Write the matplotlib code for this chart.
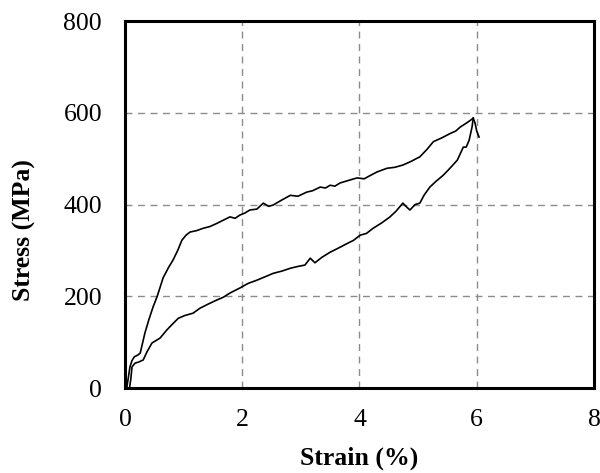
import matplotlib
matplotlib.use("Agg")
import matplotlib.pyplot as plt

# loading branch (upper), strain % / stress MPa
load_strain = [0.03, 0.06, 0.085, 0.12, 0.16, 0.22, 0.26, 0.34, 0.41, 0.48, 0.55, 0.60, 0.65,
               0.74, 0.82, 0.90, 0.97, 1.04, 1.11, 1.22, 1.33, 1.45, 1.57, 1.68, 1.79,
               1.88, 1.96, 2.04, 2.13, 2.25, 2.36, 2.45, 2.53, 2.65, 2.82, 2.95, 3.10,
               3.20, 3.33, 3.42, 3.50, 3.58, 3.67, 3.80, 3.96, 4.08, 4.18, 4.30, 4.47,
               4.60, 4.74, 4.88, 5.03, 5.15, 5.26, 5.40, 5.55, 5.64, 5.72, 5.83, 5.94]
load_stress = [0, 25, 46, 60, 68, 72, 76, 120, 150, 177, 200, 220, 240,
               262, 279, 300, 322, 333, 340, 343, 348, 352, 359, 366, 373,
               370, 377, 381, 388, 390, 403, 396, 399, 408, 420, 418, 427,
               430, 438, 436, 442, 440, 447, 452, 458, 456, 463, 471, 479,
               481, 486, 494, 504, 520, 537, 545, 555, 560, 569, 578, 588]

# drop at the end of the test
tail_strain = [5.94, 5.97, 6.00, 6.04]
tail_stress = [588, 578, 560, 547]

# unloading branch (lower), from peak back to zero
unload_strain = [5.94, 5.92, 5.87, 5.82, 5.77, 5.67, 5.55, 5.43, 5.30, 5.20, 5.10, 5.03,
                 4.95, 4.86, 4.80, 4.74, 4.62, 4.52, 4.38, 4.23, 4.12, 4.01, 3.90,
                 3.79, 3.64, 3.50, 3.36, 3.24, 3.16, 3.07, 2.95, 2.82, 2.68, 2.53,
                 2.40, 2.25, 2.10, 1.96, 1.79, 1.68, 1.57, 1.42, 1.28, 1.16, 1.02,
                 0.91, 0.80, 0.71, 0.60, 0.46, 0.38, 0.31, 0.24, 0.17, 0.12, 0.10, 0.08]
unload_stress = [588, 569, 540, 525, 525, 497, 480, 464, 450, 438, 420, 403,
                 400, 388, 395, 403, 385, 373, 360, 348, 337, 333, 322,
                 315, 305, 296, 285, 273, 283, 268, 265, 261, 255, 250,
                 243, 235, 228, 218, 207, 198, 192, 183, 174, 163, 158,
                 152, 138, 126, 109, 98, 80, 61, 57, 54, 46, 20, 2]

plt.rcParams["font.family"] = ["Liberation Serif", "DejaVu Serif"]

fig = plt.figure(figsize=(6.0, 4.73), dpi=100)
ax = fig.add_axes([0.2083, 0.1797, 0.7817, 0.7759])

ax.plot(load_strain, load_stress, color="black", linewidth=1.2)
ax.plot(tail_strain, tail_stress, color="black", linewidth=1.2)
ax.plot(unload_strain, unload_stress, color="black", linewidth=1.2)

ax.set_xlim(0, 8)
ax.set_ylim(0, 800)
ax.set_xticks([0, 2, 4, 6, 8])
ax.set_yticks([0, 200, 400, 600, 800])
ax.grid(True, color="#8c8c8c", linestyle=(0, (5, 4)), linewidth=1.0)
ax.set_axisbelow(True)
for s in ax.spines.values():
    s.set_linewidth(2.2)
ax.tick_params(length=0, labelsize=18.5)
ax.tick_params(axis="x", pad=15)
ax.tick_params(axis="y", pad=16.5)

ax.set_xlabel("Strain (%)", fontsize=18.5, fontweight="bold")
ax.set_ylabel("Stress (MPa)", fontsize=18.5, fontweight="bold")
ax.xaxis.set_label_coords(0.5, -0.16)
ax.yaxis.set_label_coords(-0.19, 0.43)

fig.savefig("out.png", dpi=100)
